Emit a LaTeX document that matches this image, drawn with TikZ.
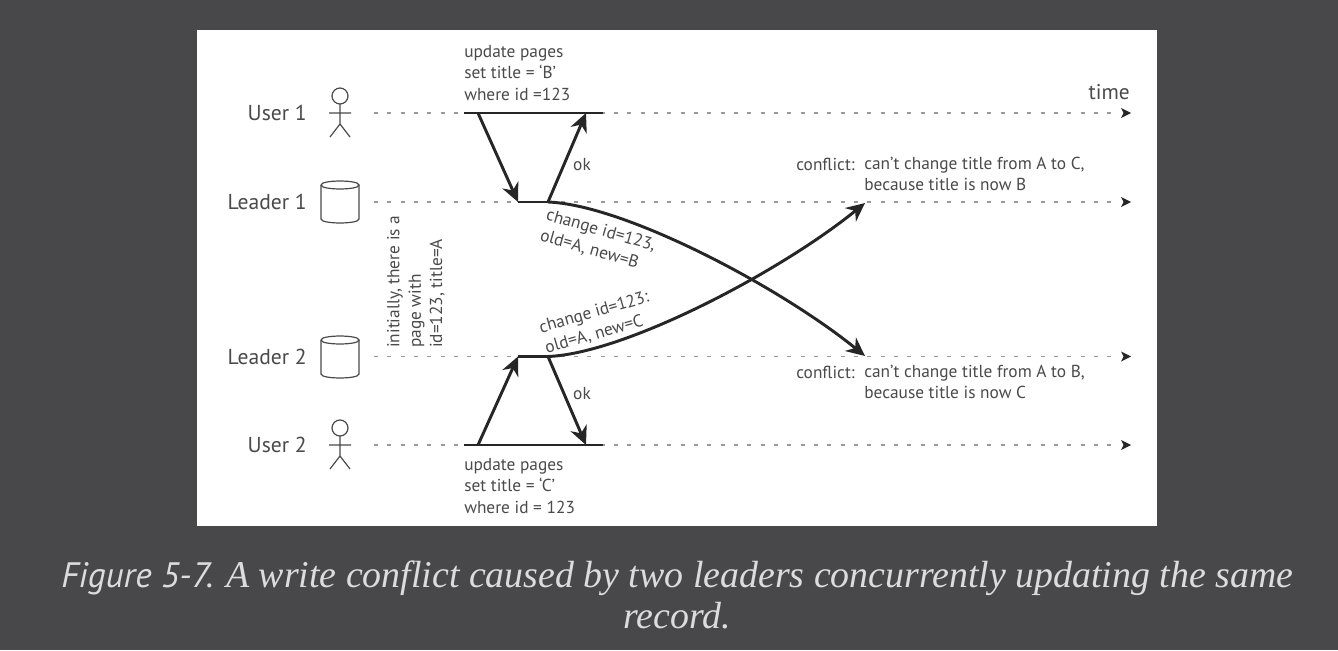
\documentclass[tikz,border=0pt]{standalone}
\usepackage{fontspec}
\setmainfont{PT Sans}
\newfontfamily\capserif{Liberation Serif}
\usetikzlibrary{arrows.meta}
\definecolor{pagebg}{HTML}{48484A}
\definecolor{captxt}{HTML}{DCDCDC}
\definecolor{ink}{HTML}{4A4A4A}
\definecolor{stroke}{HTML}{262626}
\definecolor{dots}{HTML}{9A9A9A}
\tikzset{
  x=0.75pt,y=-0.75pt,
  timeline/.style={draw=dots,line width=1.1pt,dash pattern=on 3pt off 7pt},
  timetip/.style={draw=none,fill=stroke},
  msg/.style={draw=stroke,line width=2.2pt,-{Stealth[length=14pt,width=13pt,inset=4.5pt]}},
  busy/.style={draw=stroke,line width=2.2pt},
  lab/.style={text=ink,font=\fontsize{13}{16}\selectfont,inner sep=0pt,align=left},
  who/.style={text=ink,font=\fontsize{16.2}{18}\selectfont,inner sep=0pt,anchor=east},
  glyph/.style={draw=ink,line width=0.9pt},
  captext/.style={text=captxt,inner sep=0pt},
  actor/.pic={
    \draw[glyph] (0,-17) circle [radius=8];
    \draw[glyph] (0,-9) -- (0,11) (-11,0) -- (11,0) (-10,24) -- (0,11) -- (10,24);
  },
  dbase/.pic={
    \draw[glyph] (-19,-17) .. controls (-19,-22.3) and (19,-22.3) .. (19,-17)
                 .. controls (19,-11.7) and (-19,-11.7) .. (-19,-17);
    \draw[glyph] (-19,-17) -- (-19,17) .. controls (-19,22.3) and (19,22.3) .. (19,17) -- (19,-17);
  }
}
\begin{document}
\begin{tikzpicture}
\useasboundingbox (0,0) rectangle (1338,650);
\fill[pagebg] (0,0) rectangle (1338,650);
\fill[white] (197,30) rectangle (1157,526);

% time lines
\foreach \n/\yy in {u1/113,l1/202,l2/356.5,u2/445}{
  \coordinate (\n s) at (374,\yy);
  \coordinate (\n e) at (1118,\yy);
  \coordinate (\n t) at (1131,\yy);
  \draw[timeline] (\n s) -- (\n e);
  \fill[timetip] (\n t) -- ++(-10,-5) -- ++(2.5,5) -- ++(-2.5,5) -- cycle;
}

% participants
\node[who] (nu1) at (307,113) {User 1};
\node[who] (nl1) at (307,202) {Leader 1};
\node[who] (nl2) at (307,357) {Leader 2};
\node[who] (nu2) at (307,445) {User 2};
\pic at (340,113) {actor};
\pic at (340,445) {actor};
\pic at (340,202) {dbase};
\pic at (340,357) {dbase};

% activity bars and arrows
\coordinate (a1) at (464,113); \coordinate (a2) at (478,113);
\coordinate (a3) at (586,113); \coordinate (a4) at (603,113);
\coordinate (b1) at (518,202); \coordinate (b2) at (548,202);
\coordinate (c1) at (518,356.5); \coordinate (c2) at (548,356.5);
\coordinate (d1) at (464,445); \coordinate (d2) at (478,445);
\coordinate (d3) at (586,445); \coordinate (d4) at (603,445);
\coordinate (e1) at (865,203); \coordinate (e2) at (865,356);

\draw[busy] (a1) -- (a4);
\draw[busy] (b1) -- (b2);
\draw[busy] (c1) -- (c2);
\draw[busy] (d1) -- (d4);
\draw[msg] (a2) -- (b1);
\draw[msg] (b2) -- (a3);
\draw[msg] (d2) -- (c1);
\draw[msg] (c2) -- (d3);
\draw[msg] (b2) .. controls (625,205) and (780,287) .. (e2);
\draw[msg] (c2) .. controls (625,353.5) and (780,272) .. (e1);

% labels
\node[lab,anchor=north west] (t1) at (464,45) {update pages\\set title = ‘B’\\where id =123};
\node[lab,anchor=north west] (t2) at (464,458) {update pages\\set title = ‘C’\\where id = 123};
\node[lab] (ok1) at (582,165) {ok};
\node[lab] (ok2) at (582,394) {ok};
\node[text=ink,font=\fontsize{16}{17}\selectfont,inner sep=0pt,anchor=east] (tm) at (1130,92) {time};
\node[lab,anchor=south west,rotate=90] (init) at (445,348) {initially, there is a\\page with\\id=123, title=A};
\node[lab,rotate=-16] (ch1) at (598,241) {change id=123,\\old=A, new=B};
\node[lab,rotate=16] (ch2) at (597,323) {change id=123:\\old=A, new=C};
\node[lab,anchor=west] (cf1) at (796,164) {conflict:};
\node[lab,anchor=north west] (cf1b) at (864,157) {can’t change title from A to C,\\because title is now B};
\node[lab,anchor=west] (cf2) at (796,372) {conflict:};
\node[lab,anchor=north west] (cf2b) at (864,365) {can’t change title from A to B,\\because title is now C};

% caption
\node[captext,anchor=base west] (cap1) at (61,587) {\fontsize{26.5}{30}\selectfont\itshape Figure 5-7. \fontsize{28.4}{30}\selectfont\capserif A write conflict caused by two leaders concurrently updating the same};
\node[captext,anchor=base] (cap2) at (677,628) {\fontsize{28.4}{30}\selectfont\itshape\capserif record.};
\end{tikzpicture}
\end{document}
